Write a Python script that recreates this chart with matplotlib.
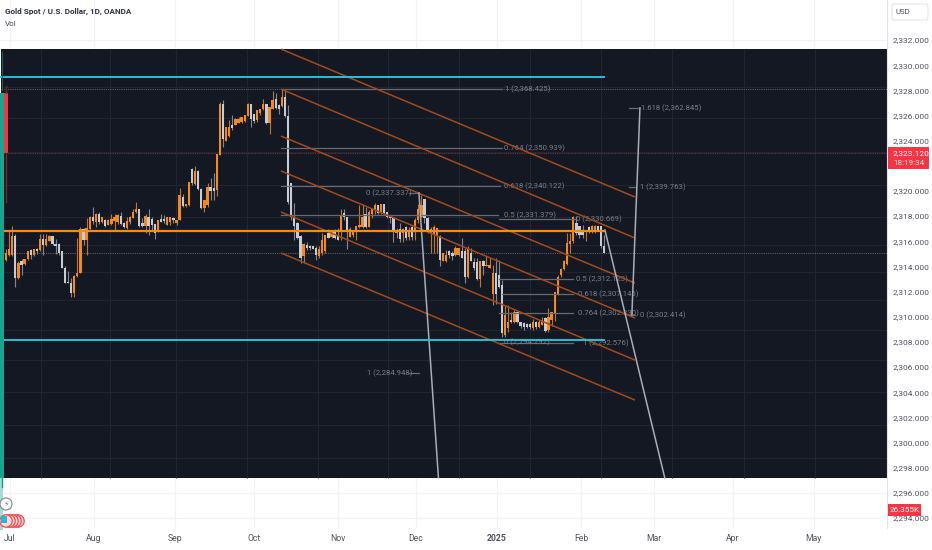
import matplotlib
matplotlib.use("Agg")
import matplotlib.pyplot as plt
from matplotlib.patches import Rectangle, FancyBboxPatch, Circle

plt.rcParams['font.family'] = ['Roboto', 'DejaVu Sans']

BASE = 2300
opens = [14.5,14.9,14.9,16.4,13.1,14.4,14.2,14.6,15.3,14.9,15.4,15.3,16.2,15.7,16.0,16.4,15.8,15.8,15.2,13.9,12.8,12.7,11.9,13.25,13.5,16.95,16.1,17.0,17.9,17.55,18.2,17.55,17.7,17.3,17.35,17.65,17.55,18.0,17.45,17.05,17.5,17.85,18.3,18.55,17.45,17.2,17.95,
 17.8,17.35,16.75,17.8,17.8,17.3,17.5,17.8,17.45,17.7,19.55,18.8,18.85,21.75,20.55,21.6,20.15,18.65,18.85,20.35,20.2,20.1,22.85,26.9,24.0,24.4,25.25,25.25,25.4,25.5,25.6,25.95,26.9,26.1,25.65,26.2,26.5,26.95,25.4,26.55,27.3,26.85,26.75,27.45,25.95,20.6,17.9,17.45,16.4,14.85,15.7,15.65,15.6,15.5,14.85,
 15.05,15.2,16.65,16.35,16.7,16.5,16.75,18.25,17.9,16.35,16.5,16.75,17.1,17.15,18.15,17.15,18.15,18.5,18.9,18.25,18.95,18.3,18.0,17.85,16.65,16.95,16.65,17.1,16.35,17.1,16.75,17.7,17.95,19.35,17.85,16.65,16.5,16.5,16.4,
 14.4,14.45,15.2,15.1,14.95,14.95,15.25,15.2,13.2,15.05,14.35,14.35,13.0,14.4,14.0,13.9,11.85,13.45,13.35,12.5,8.55,9.1,9.75,9.6,10.35,9.55,9.5,9.4,9.4,9.1,9.55,9.15,9.35,9.9,8.95,
 9.75,10.3,11.8,13.3,13.8,14.2,15.8,16.05,17.45,17.2,16.9,16.75,17.1,16.85,16.85,17.2,17.2,15.6]
highs = [15.4,16.8,17.2,16.6,14.4,14.6,14.6,15.2,15.4,15.4,15.45,16.6,16.6,16.6,16.5,16.4,16.2,15.85,15.25,14.0,13.6,13.05,13.3,16.3,17.15,17.05,17.85,18.0,18.7,18.25,18.3,17.95,17.75,17.75,18.15,18.15,18.15,18.3,17.5,17.95,18.0,18.55,19.15,18.6,17.85,18.15,18.6,
 17.95,17.4,17.7,18.15,18.1,17.95,17.95,17.9,17.7,20.25,19.75,19.0,20.75,21.8,22.0,21.65,20.2,19.3,20.65,21.0,21.45,22.95,27.1,27.25,25.1,25.65,26.05,25.8,25.9,25.9,26.05,27.0,26.95,26.15,26.45,26.55,27.3,26.95,26.7,27.95,27.75,26.95,28.1,28.05,26.85,20.6,19.05,17.5,16.5,15.85,15.95,15.7,15.6,15.6,15.6,
 16.65,16.5,16.95,16.9,16.95,17.05,18.55,18.55,17.95,17.1,16.9,17.2,18.9,19.0,18.75,18.5,18.6,19.05,18.9,18.95,18.95,18.35,18.1,17.95,17.05,17.45,17.05,17.2,17.1,17.2,17.85,18.95,19.7,19.4,17.9,17.15,17.3,17.05,16.5,
 15.05,15.3,15.3,15.2,15.6,15.5,16.25,15.45,15.6,15.5,14.65,14.7,14.45,14.5,14.8,14.65,14.1,14.65,14.55,12.95,10.95,10.95,10.4,10.55,10.4,9.6,9.55,9.5,9.5,9.85,9.65,9.75,9.95,10.0,10.7,
 10.4,12.0,13.35,13.85,14.55,16.65,16.65,18.05,18.05,17.25,17.3,16.9,17.2,17.3,17.3,17.25,17.25,16.5]
lows = [14.4,14.8,14.8,12.4,13.0,13.3,14.1,14.5,14.6,14.8,15.0,15.2,14.9,15.6,16.0,15.7,15.0,14.9,13.85,12.65,12.65,11.55,11.6,13.2,13.45,15.7,14.9,16.95,17.4,17.15,17.4,17.45,17.15,17.3,17.3,16.9,17.4,17.3,17.05,16.95,17.4,17.85,18.25,17.15,17.15,16.65,16.5,
 16.9,16.2,16.7,17.55,17.45,17.3,17.3,17.45,17.3,17.7,18.75,18.75,18.8,20.45,20.45,20.1,18.6,18.3,18.75,19.3,19.25,19.6,22.85,23.5,24.0,24.3,24.85,25.25,25.4,25.4,25.5,25.95,25.05,25.4,25.5,26.05,26.45,25.3,24.55,26.55,26.55,26.1,26.7,25.9,19.0,17.7,16.1,16.15,14.3,14.3,15.3,15.3,15.35,14.55,14.65,
 14.9,15.05,16.25,16.25,16.15,16.1,16.1,17.7,15.35,16.35,16.35,16.1,17.05,17.05,17.05,17.1,17.85,18.15,18.15,18.15,18.15,17.85,17.45,15.95,16.25,15.95,15.95,16.1,16.1,16.1,16.1,17.45,17.95,17.45,16.65,15.05,15.05,15.05,14.0,
 14.4,14.35,14.65,14.5,14.85,14.8,14.65,12.65,13.05,14.4,13.7,12.95,12.4,13.35,14.0,13.85,10.95,11.05,12.25,8.4,8.4,8.8,9.5,9.5,9.5,9.1,8.95,9.1,9.05,8.95,9.05,9.1,9.35,8.8,8.8,
 9.25,9.65,11.75,13.2,13.75,14.15,15.05,15.85,16.5,16.25,16.3,16.0,16.65,16.65,16.65,16.8,15.45,15.05]
closes = [15.1,15.4,16.4,13.1,14.3,14.1,14.6,15.2,14.9,15.4,15.2,16.2,15.7,16.2,16.4,15.8,15.6,15.05,13.9,12.7,12.65,11.9,13.25,13.5,16.95,16.1,17.05,17.95,17.65,18.2,17.55,17.95,17.2,17.7,17.75,17.9,18.1,17.35,17.15,17.65,17.9,18.35,18.55,17.2,17.2,18.0,17.2,
 17.3,16.65,17.7,17.55,17.65,17.95,17.95,17.7,17.7,19.7,18.8,18.95,20.7,20.6,21.6,20.15,18.65,19.3,20.35,20.0,20.0,22.95,26.9,24.1,25.05,25.1,25.0,25.7,25.75,25.85,26.05,26.9,25.75,25.6,26.4,26.5,26.95,25.4,26.65,27.25,26.6,26.55,27.45,25.95,19.15,17.95,17.2,16.25,14.65,15.8,15.45,15.45,15.4,14.9,15.35,
 16.1,16.5,16.3,16.7,16.3,16.1,18.0,17.95,16.75,16.95,16.7,17.2,17.3,17.95,17.15,18.35,18.55,18.9,18.25,18.95,18.25,17.95,17.85,16.75,16.85,16.15,16.95,16.3,16.9,16.35,17.7,18.6,18.9,17.85,16.75,16.95,17.1,17.05,14.5,
 15.05,14.95,14.9,14.85,15.5,15.45,14.65,13.2,15.5,14.4,13.85,13.0,14.4,14.05,14.15,14.15,13.45,11.85,12.4,8.7,10.15,9.6,9.55,10.35,9.6,9.3,9.2,9.2,9.2,9.55,9.2,9.6,9.75,8.85,10.0,
 10.35,11.95,13.2,13.8,14.4,15.85,16.05,17.95,16.65,16.5,16.5,16.9,16.85,17.25,17.2,16.9,15.6,15.1]

# price tick labels, month labels
price_ticks = [v for v in range(2294, 2334, 2) if v != 2322]
month_bars = [1.3, 28.4, 54.5, 80, 107, 132.2, 158.4, 185.5, 209, 234.5, 260.5]
month_labels = ['Jul', 'Aug', 'Sep', 'Oct', 'Nov', 'Dec', '2025', 'Feb', 'Mar', 'Apr', 'May']

# chart drawings: channel (bar span, then start and end price of each line)
channel_bars = [88.7, 202.9]
channel_start = [2331.28, 2328.1, 2324.37, 2321.59, 2318.33, 2315.07]
channel_end = [2319.52, 2316.26, 2312.68, 2309.9, 2306.56, 2303.38]

# fib levels: bar start, bar end, price, label, label bar
fib_bars_a = [88.7, 88.7, 88.7, 88.7, 130, 159, 159, 160, 159, 159, 201, 201, 201, 130]
fib_bars_b = [160, 160, 159.5, 158.8, 133, 183.5, 183, 183, 183, 183, 203, 203, 204, 133.2]
fib_prices = [2328.1, 2323.42, 2320.4, 2318.1, 2319.8, 2317.75, 2312.97, 2311.78, 2310.27, 2307.9, 2320.3, 2310.13, 2326.6, 2305.5]
fib_labels = ['1 (2,368.425)', '0.764 (2,350.939)', '0.618 (2,340.122)', '0.5 (2,331.379)',
              '0 (2,337.337)', '0 (2,330.669)', '0.5 (2,312.123)', '0.618 (2,307.146)',
              '0.764 (2,302.330)', '1 (2,292.576)', '1 (2,339.763)', '0 (2,302.414)',
              '1.618 (2,362.845)', '1 (2,284.948)']
fib_text_bars = [161, 160.7, 160.7, 160.5, 116, 184, 184, 184.5, 184.5, 186, 204.5, 204.5, 205, 116.5]

# projection lines: start bar, start price, end bar, end price
proj_a = [(133.2, 2319.85), (139.5, 2297.2)]
proj_b = [(193.2, 2316.9), (212.5, 2297.2)]
proj_c = [(201.9, 2310.15), (204.5, 2326.6)]

hlevels = {'upper': 2329.06, 'lower': 2308.15, 'mid': 2316.82}
last_bar = 193
panel_top, panel_bottom = 2331.28, 2297.18
panel_grid_prices = [2328.26, 2325.8, 2323.1, 2320.47, 2317.93, 2315.7, 2313.56, 2311.33, 2308.95, 2306.56, 2304.0, 2301.4, 2298.8]
panel_grid_bars = [11.3, 33.5, 54.8, 77.7, 100.6, 123.2, 146, 169, 192, 215, 238, 261]

assert len(opens) == len(highs) == len(lows) == len(closes)

fig = plt.figure(figsize=(9.32, 5.5), dpi=100, facecolor='white')
ax = fig.add_axes([0, 22 / 550, 887 / 932, 528 / 550])
ax.set_facecolor('white')
ax.set_xlim(-1.94, 284.2)
ax.set_ylim(2293.21, 2335.18)
TEAL, ORANGE, GREY = '#22c3d6', '#f28a1e', '#c9cbd2'
CH = '#a34a1c'
FIBC = '#666a75'
LBL = '#7b7e89'

ax.set_axisbelow(True)
ax.grid(True, color='#f0f3fa', lw=0.9, zorder=0)
ax.axhspan(panel_bottom, panel_top, xmin=1 / 887, color='#141823', lw=0, zorder=1)
for s in ['top', 'left', 'bottom']:
    ax.spines[s].set_visible(False)
ax.spines['right'].set_color('#e0e3eb')
ax.spines['right'].set_linewidth(0.8)
ax.yaxis.tick_right()
ax.set_yticks(price_ticks)
ax.set_yticklabels([f'{v:,}.000' for v in price_ticks], fontsize=6.0, color='#50535e')
ax.tick_params(axis='y', length=0, pad=4)
ax.set_xticks(month_bars)
ax.set_xticklabels(month_labels, fontsize=6.2, color='#50535e')
ax.tick_params(axis='x', length=0, pad=4)
for t in ax.get_xticklabels():
    if t.get_text() == '2025':
        t.set_fontweight('bold')

ax.hlines(panel_grid_prices, -1.6, 284.2, color='#222632', lw=0.7, zorder=1.2)
ax.vlines(panel_grid_bars, panel_bottom, panel_top, color='#222632', lw=0.7, zorder=1.2)

# full-width dotted levels
ax.hlines([2328.1, closes[-1] + BASE], -1.6, 284.2, color='#5b5e68', lw=0.8, ls=(0, (1, 1)), zorder=1.4)
ax.hlines(2323.02, -1.6, 284.2, color='#7a2f35', lw=0.8, ls=(0, (1, 1)), zorder=1.4)

# candles
for i, (o, h, l, c) in enumerate(zip(opens, highs, lows, closes)):
    up = c >= o
    col = ORANGE if up else GREY
    wick = '#b9772f' if up else '#85878f'
    ax.vlines(i, l + BASE, h + BASE, color=wick, lw=0.8, zorder=2)
    lo, hi = min(o, c), max(o, c)
    ax.bar(i, max(hi - lo, 0.12), bottom=lo + BASE, width=0.72, color=col, lw=0, zorder=2.2)

# channel
for s, e in zip(channel_start, channel_end):
    ax.plot(channel_bars, [s, e], color=CH, lw=1.1, zorder=3, solid_capstyle='butt')

# fib levels
for a, b, p, lab, tx in zip(fib_bars_a, fib_bars_b, fib_prices, fib_labels, fib_text_bars):
    ax.plot([a, b], [p, p], color=FIBC, lw=0.9, zorder=2.6)
    ax.text(tx, p, lab, fontsize=5.6, color=LBL, va='center', ha='left', zorder=2.7)
ax.text(160.6, 2308.0, '0 (2,294.292)', fontsize=5.6, color=LBL, va='center', ha='left', zorder=2.7)

# projections
for seg in (proj_a, proj_b, proj_c):
    ax.plot([seg[0][0], seg[1][0]], [seg[0][1], seg[1][1]], color='#a9adb5', lw=1.1, zorder=3.2)

# horizontal levels
ax.plot([-1.9, last_bar], [hlevels['upper']] * 2, color=TEAL, lw=1.4, zorder=4)
ax.plot([-1.9, last_bar], [hlevels['lower']] * 2, color=TEAL, lw=1.4, zorder=4)
ax.plot([-0.7, last_bar], [hlevels['mid']] * 2, color=ORANGE, lw=1.6, zorder=4)

# decoration layer, in figure pixels
d = fig.add_axes([0, 0, 1, 1], facecolor='none')
d.set_xlim(0, 932)
d.set_ylim(550, 0)
d.axis('off')
d.add_patch(Rectangle((0, 93), 3.6, 385, color='#16a58e', lw=0, zorder=5))
d.add_patch(Rectangle((0, 478), 3, 52, color='#a7dcd3', lw=0, zorder=5))
d.plot([2.2, 2.2], [478, 487], color='#119a85', lw=1, zorder=6)
d.plot([2.2, 2.2], [52, 90], color='#12605e', lw=0.8, zorder=5)
d.add_patch(Rectangle((4, 93), 3.6, 60, color='#f23645', lw=0, zorder=5))
d.plot([5.8, 5.8], [86, 93], color='#6d2c2c', lw=1, zorder=5)
d.plot([5.8, 5.8], [153, 202], color='#6d2c2c', lw=1, zorder=5)

# icons at the bottom left
d.add_patch(Circle((6, 504), 6, facecolor='white', edgecolor='#8a8d96', lw=0.9, zorder=6))
d.text(6, 504, '⚡', fontsize=5.5, color='#787b86', ha='center', va='center', family='DejaVu Sans', zorder=7)
for cx in (18, 15, 12, 9, 6):
    d.add_patch(Circle((cx, 521), 6.2, facecolor='#fbd9d9', edgecolor='#f0484e', lw=0.9, zorder=6))
d.add_patch(Rectangle((1, 516), 6, 7, facecolor='#27b7d8', lw=0, zorder=7))

# title
d.text(5, 11.5, 'Gold Spot / U.S. Dollar, 1D, OANDA', fontsize=5.85, fontweight='bold', color='#2e3240', va='center', zorder=8)
d.text(5, 23.5, 'Vol', fontsize=5.85, color='#4a4d58', va='center', zorder=8)

# USD box
d.add_patch(FancyBboxPatch((892, 4), 36, 16, boxstyle='round,pad=0,rounding_size=2', facecolor='white', edgecolor='#e4e6ec', lw=0.8, zorder=8))
d.text(896, 12, 'USD', fontsize=5.6, color='#50535e', va='center', zorder=9)

# price tag
d.add_patch(Rectangle((888, 147), 41, 22, color='#f23645', lw=0, zorder=8))
d.text(893, 153, '2,323.120', fontsize=6.0, color='white', va='center', zorder=9)
d.text(893, 163, '18:19:34', fontsize=5.9, color='#fde0c8', va='center', zorder=9)

# volume tag
d.add_patch(Rectangle((888, 504), 33, 12, color='#f23645', lw=0, zorder=8))
d.text(904.5, 510, '26.355K', fontsize=5.9, color='white', va='center', ha='center', zorder=9)

fig.savefig('out.png', dpi=100, facecolor='white')
